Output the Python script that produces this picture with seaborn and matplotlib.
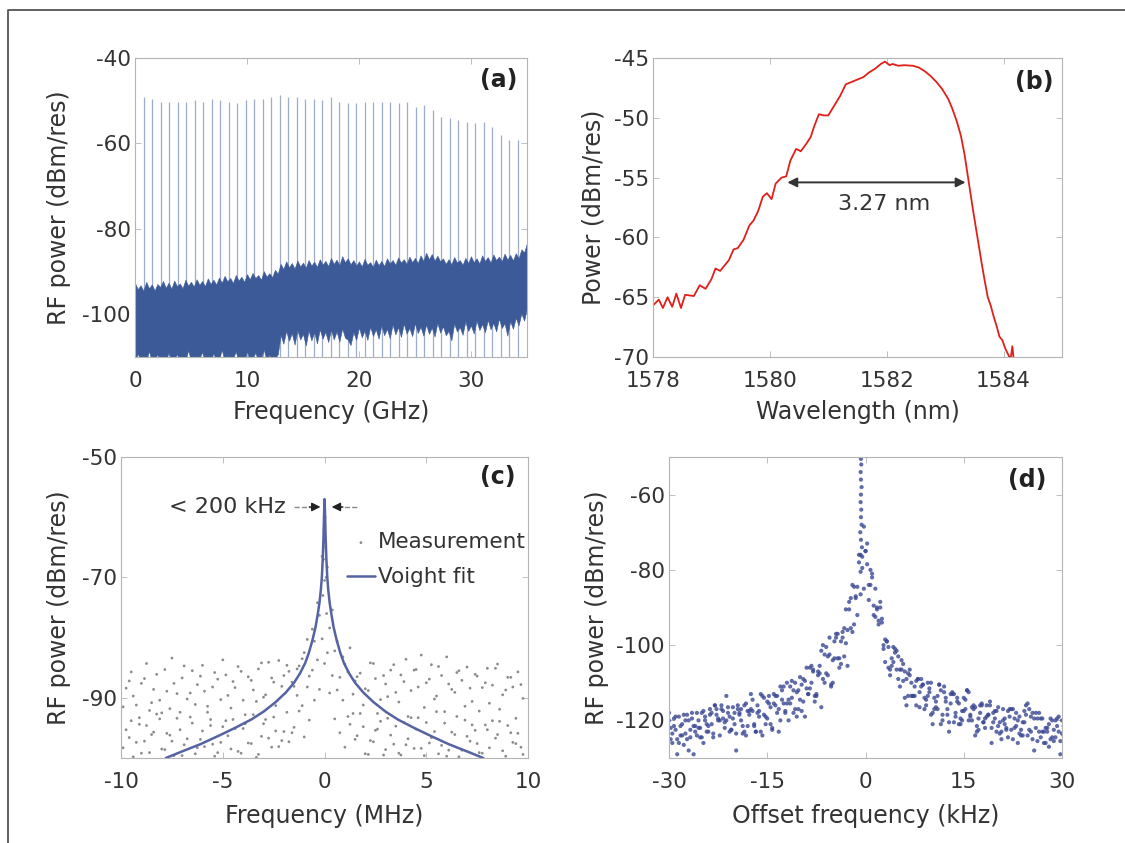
import matplotlib
matplotlib.use('Agg')
import matplotlib.pyplot as plt
import numpy as np
import pandas as pd
import seaborn as sns
from matplotlib.lines import Line2D

sns.set_theme(style='white')
plt.rcParams.update({
    'font.family': ['DejaVu Sans'],
    'axes.unicode_minus': False,
    'text.color': '#333333',
})

# ── (a) RF comb spectrum ──
comb_freq = [0.76, 1.52, 2.28, 3.04, 3.80, 4.56, 5.32, 6.08, 6.84, 7.60,
             8.36, 9.12, 9.88, 10.64, 11.40, 12.16, 12.92, 13.68, 14.44, 15.20,
             15.96, 16.72, 17.48, 18.24, 19.00, 19.76, 20.52, 21.28, 22.04, 22.80,
             23.56, 24.32, 25.08, 25.84, 26.60, 27.36, 28.12, 28.88, 29.64, 30.40,
             31.16, 31.92, 32.68, 33.44, 34.20]
comb_peak = [-49.1, -49.5, -50.2, -50.2, -50.2, -50.2, -49.8, -50.2, -49.5, -49.8,
             -50.2, -50.6, -49.8, -49.5, -49.5, -49.1, -48.7, -49.1, -49.1, -49.5,
             -49.5, -49.8, -49.1, -50.2, -50.6, -50.6, -50.2, -50.2, -50.2, -50.2,
             -50.6, -50.2, -51.4, -51.0, -52.2, -53.7, -54.1, -54.5, -54.9, -55.3,
             -54.9, -56.1, -58.0, -59.2, -59.2]
noise_freq = [0.0, 0.25, 0.5, 0.75, 1.0, 1.25, 1.5, 1.75, 2.0, 2.25,
              2.5, 2.75, 3.0, 3.25, 3.5, 3.75, 4.0, 4.25, 4.5, 4.75,
              5.0, 5.25, 5.5, 5.75, 6.0, 6.25, 6.5, 6.75, 7.0, 7.25,
              7.5, 7.75, 8.0, 8.25, 8.5, 8.75, 9.0, 9.25, 9.5, 9.75,
              10.0, 10.25, 10.5, 10.75, 11.0, 11.25, 11.5, 11.75, 12.0, 12.25,
              12.5, 12.75, 13.0, 13.25, 13.5, 13.75, 14.0, 14.25, 14.5, 14.75,
              15.0, 15.25, 15.5, 15.75, 16.0, 16.25, 16.5, 16.75, 17.0, 17.25,
              17.5, 17.75, 18.0, 18.25, 18.5, 18.75, 19.0, 19.25, 19.5, 19.75,
              20.0, 20.25, 20.5, 20.75, 21.0, 21.25, 21.5, 21.75, 22.0, 22.25,
              22.5, 22.75, 23.0, 23.25, 23.5, 23.75, 24.0, 24.25, 24.5, 24.75,
              25.0, 25.25, 25.5, 25.75, 26.0, 26.25, 26.5, 26.75, 27.0, 27.25,
              27.5, 27.75, 28.0, 28.25, 28.5, 28.75, 29.0, 29.25, 29.5, 29.75,
              30.0, 30.25, 30.5, 30.75, 31.0, 31.25, 31.5, 31.75, 32.0, 32.25,
              32.5, 32.75, 33.0, 33.25, 33.5, 33.75, 34.0, 34.25, 34.5, 34.75,
              35.0]
noise_top = [-92.7, -94.1, -93.2, -94.5, -92.4, -93.9, -93.0, -94.4, -92.9, -93.6,
             -92.2, -93.8, -92.6, -94.0, -92.1, -93.4, -92.8, -93.9, -91.9, -93.3,
             -92.4, -93.5, -91.8, -93.1, -92.2, -93.4, -91.6, -92.9, -91.9, -93.0,
             -91.4, -92.6, -91.0, -92.3, -91.5, -92.7, -90.8, -92.1, -91.2, -92.4,
             -90.6, -91.8, -90.3, -91.5, -90.8, -91.9, -89.9, -91.2, -90.4, -91.3,
             -89.6, -90.5, -88.2, -89.4, -87.6, -89.0, -88.0, -89.3, -87.4, -88.8,
             -87.9, -89.1, -87.3, -88.6, -87.7, -88.9, -87.1, -88.4, -87.5, -88.7,
             -86.8, -88.2, -87.2, -88.5, -86.4, -87.8, -86.9, -88.3, -87.3, -88.6,
             -87.6, -88.8, -87.0, -88.4, -87.8, -88.9, -87.2, -88.5, -87.5, -88.7,
             -86.9, -88.1, -87.3, -88.4, -86.7, -87.9, -87.1, -88.2, -86.5, -87.8,
             -86.8, -88.0, -86.2, -87.5, -85.6, -87.1, -85.9, -87.4, -86.3, -87.6,
             -86.9, -88.2, -87.1, -88.3, -86.6, -87.9, -87.3, -88.4, -86.8, -88.0,
             -86.4, -87.8, -86.9, -88.1, -86.2, -87.5, -86.6, -87.9, -86.0, -87.3,
             -86.5, -87.6, -85.8, -87.2, -86.1, -87.4, -85.7, -86.9, -84.8, -85.5,
             -83.3]
noise_bot = [-111, -109.2, -111, -110.3, -111, -108.6, -111, -110.5, -109.4, -111,
             -110.2, -111, -108.9, -111, -110.6, -109.3, -111, -110.1, -111, -108.4,
             -111, -109.7, -111, -110.4, -108.8, -111, -110.2, -111, -109.1, -111,
             -110.5, -108.3, -111, -109.6, -111, -110.3, -108.7, -111, -109.9, -111,
             -108.6, -111, -110.1, -109.0, -111, -110.4, -108.2, -111, -109.5, -111,
             -110.3, -109.4, -104.8, -106.9, -103.9, -106.2, -104.4, -107.1, -103.7, -105.9,
             -104.6, -107.3, -103.8, -106.1, -104.2, -106.8, -103.5, -105.7, -104.1, -106.5,
             -103.6, -105.9, -104.0, -106.4, -103.3, -105.5, -105.9, -107.2, -104.2, -106.0,
             -103.1, -105.4, -103.8, -106.0, -102.9, -105.1, -103.5, -105.7, -102.6, -104.9,
             -103.4, -105.6, -102.4, -104.7, -103.0, -105.3, -102.2, -104.5, -103.2, -105.1,
             -102.1, -104.4, -102.9, -105.0, -102.4, -104.6, -103.1, -105.2, -102.0, -104.3,
             -102.8, -104.9, -103.9, -106.1, -102.2, -104.0, -103.0, -104.8, -101.7, -103.9,
             -102.6, -104.5, -101.5, -103.7, -102.3, -104.2, -101.3, -103.5, -102.0, -104.0,
             -101.0, -103.2, -102.1, -105.0, -101.6, -103.4, -100.8, -102.6, -99.8, -101.5,
             -98.5]

# ── (b) optical spectrum ──
wl = [1578.0, 1578.1, 1578.17, 1578.25, 1578.33, 1578.4, 1578.48, 1578.55, 1578.7, 1578.8,
      1578.9, 1579.0, 1579.07, 1579.15, 1579.3, 1579.38, 1579.45, 1579.55, 1579.65, 1579.72,
      1579.8, 1579.88, 1579.95, 1580.03, 1580.1, 1580.2, 1580.28, 1580.35, 1580.45, 1580.53,
      1580.62, 1580.7, 1580.76, 1580.84, 1580.92, 1581.0, 1581.1, 1581.2, 1581.3, 1581.4,
      1581.5, 1581.6, 1581.7, 1581.8, 1581.9, 1581.97, 1582.05, 1582.1, 1582.2, 1582.3,
      1582.45, 1582.55, 1582.65, 1582.75, 1582.85, 1582.95, 1583.05, 1583.12, 1583.2, 1583.27,
      1583.33, 1583.38, 1583.43, 1583.48, 1583.53, 1583.58, 1583.63, 1583.68, 1583.73, 1583.78,
      1583.83, 1583.88, 1583.93, 1583.98, 1584.03, 1584.08, 1584.12, 1584.15, 1584.18]
opt_power = [-65.7, -65.2, -65.9, -65.0, -65.8, -64.7, -65.9, -64.8, -64.9, -64.0,
             -64.3, -63.5, -62.6, -62.8, -61.9, -61.0, -60.9, -60.2, -59.0, -58.6,
             -57.8, -56.6, -56.3, -56.8, -55.5, -55.0, -54.9, -53.6, -52.6, -52.8,
             -52.2, -51.6, -50.7, -49.7, -49.8, -49.8, -49.0, -48.2, -47.2, -47.0,
             -46.8, -46.6, -46.2, -45.9, -45.5, -45.3, -45.6, -45.5, -45.65, -45.6,
             -45.65, -45.8, -46.1, -46.5, -47.0, -47.6, -48.4, -49.2, -50.3, -51.5,
             -53.0, -54.6, -56.2, -57.8, -59.3, -60.8, -62.3, -63.7, -65.0, -65.7,
             -66.6, -67.4, -68.3, -68.6, -69.3, -69.8, -70.2, -69.1, -70.5]

# ── (c) beat note, measurement + Voigt fit ──
meas_f = [-9.75, -9.5, -9.25, -9.0, -8.75, -8.5, -8.25, -8.0, -7.75, -7.5,
          -7.25, -7.0, -6.75, -6.5, -6.25, -6.0, -5.75, -5.5, -5.25, -5.0,
          -4.75, -4.5, -4.25, -4.0, -3.75, -3.5, -3.25, -3.0, -2.75, -2.5,
          -2.25, -2.0, -1.75, -1.5, -1.25, -1.0, -0.75, -0.5, -0.25, 0.0,
          0.25, 0.5, 0.75, 1.0, 1.25, 1.5, 1.75, 2.0, 2.25, 2.5,
          2.75, 3.0, 3.25, 3.5, 3.75, 4.0, 4.25, 4.5, 4.75, 5.0,
          5.25, 5.5, 5.75, 6.0, 6.25, 6.5, 6.75, 7.0, 7.25, 7.5,
          7.75, 8.0, 8.25, 8.5, 8.75, 9.0, 9.25, 9.5, 9.75]
meas_hi = [-88.4, -85.7, -91.2, -87.6, -84.3, -90.8, -86.1, -92.5, -88.9, -83.4,
           -89.3, -86.7, -90.2, -85.5, -87.8, -84.6, -91.4, -88.2, -86.9, -83.7,
           -89.6, -87.3, -84.8, -90.4, -86.5, -88.7, -85.2, -89.9, -84.1, -87.4,
           -83.8, -86.3, -85.6, -88.1, -84.7, -82.5, -86.4, -80.6, -76.3, -70.5,
           -78.4, -82.2, -86.6, -84.4, -81.7, -87.2, -85.9, -88.5, -84.2, -86.8,
           -90.3, -87.7, -85.4, -89.1, -86.2, -83.6, -88.8, -85.3, -82.9, -87.5,
           -84.5, -89.7, -86.3, -83.2, -88.6, -85.8, -87.1, -84.9, -90.6, -86.4,
           -88.3, -85.1, -87.9, -84.4, -89.5, -86.6, -88.2, -85.7, -90.1]
meas_lo = [-95.3, -93.8, -97.4, -99.2, -94.6, -96.1, -92.7, -98.5, -95.9, -97.2,
           -93.4, -99.6, -96.8, -94.2, -98.3, -95.5, -92.4, -97.7, -99.1, -94.8,
           -96.3, -93.6, -98.9, -95.1, -97.5, -92.8, -99.4, -94.3, -96.7, -93.2,
           -98.1, -95.6, -97.3, -94.9, -92.2, -96.5, -93.7, -90.4, -88.6, -84.3,
           -89.2, -93.5, -95.8, -98.2, -94.4, -96.9, -92.6, -99.3, -97.1, -95.4,
           -93.9, -98.6, -96.2, -94.7, -99.5, -97.8, -93.3, -95.2, -98.4, -94.1,
           -96.6, -92.3, -97.9, -99.7, -95.7, -93.1, -98.7, -96.4, -94.5, -97.6,
           -99.2, -95.3, -93.8, -96.1, -98.8, -94.6, -97.4, -95.9, -99.4]
meas_f2 = [-9.9, -9.6, -9.4, -9.1, -8.85, -8.6, -8.4, -8.1, -7.85, -7.6,
           -7.4, -7.1, -6.9, -6.6, -6.35, -6.1, -5.9, -5.6, -5.4, -5.1,
           -4.85, -4.6, -4.4, -4.1, -3.9, -3.6, -3.35, -3.1, -2.9, -2.6,
           -2.4, -2.1, -1.85, -1.6, -1.35, -1.1, -0.85, -0.6, -0.35, -0.12,
           0.14, 0.38, 0.62, 0.9, 1.15, 1.4, 1.6, 1.9, 2.15, 2.4,
           2.6, 2.9, 3.1, 3.4, 3.65, 3.9, 4.1, 4.4, 4.6, 4.9,
           5.15, 5.4, 5.6, 5.9, 6.1, 6.4, 6.6, 6.9, 7.15, 7.4,
           7.6, 7.9, 8.1, 8.4, 8.6, 8.9, 9.15, 9.4, 9.65]
meas_m1 = [-91.5, -87.2, -89.7, -93.3, -86.8, -92.1, -88.6, -90.4, -85.3, -91.8,
           -87.6, -92.4, -84.7, -89.2, -91.1, -86.4, -88.9, -93.6, -85.8, -90.3,
           -86.2, -91.7, -88.3, -85.6, -92.8, -87.1, -90.6, -84.2, -89.5, -86.7,
           -91.3, -88.1, -84.6, -87.4, -85.2, -83.5, -80.3, -78.6, -74.2, -66.5,
           -68.3, -75.4, -80.6, -83.2, -85.7, -89.4, -86.5, -91.2, -88.8, -84.3,
           -92.6, -86.3, -89.8, -84.5, -90.7, -87.3, -93.1, -85.4, -88.2, -91.6,
           -86.9, -90.2, -84.8, -92.3, -87.7, -89.1, -85.5, -91.4, -88.4, -86.1,
           -92.2, -87.5, -90.9, -85.1, -91.9, -88.7, -86.6, -93.4, -87.8]
meas_m2 = [-98.3, -96.6, -99.8, -94.4, -97.2, -99.1, -95.7, -93.5, -98.6, -96.2,
           -99.6, -95.3, -97.8, -93.2, -99.3, -96.9, -98.1, -94.6, -99.7, -97.4,
           -93.8, -98.5, -95.1, -99.2, -94.3, -97.6, -99.9, -96.4, -93.6, -98.2,
           -95.5, -97.1, -92.4, -95.8, -89.6, -91.3, -88.2, -85.4, -83.7, -80.2,
           -82.5, -86.3, -88.7, -90.4, -93.1, -92.6, -96.3, -94.8, -99.4, -97.3,
           -95.2, -99.5, -93.4, -97.7, -99.2, -94.1, -96.8, -98.4, -93.3, -99.6,
           -97.5, -95.6, -99.3, -94.2, -98.7, -96.1, -99.8, -93.7, -97.2, -95.4,
           -99.1, -94.5, -98.3, -96.7, -93.9, -99.7, -95.8, -97.6, -98.2]
peak_f = [0.0, 0.03, -0.03, 0.05, -0.05, 0.08, -0.08, 0.1]
peak_p = [-57.5, -60, -62, -65, -67, -70, -73, -76]
fit_f = [-7.8, -7.0, -6.1, -5.2, -4.4, -3.6, -3.0, -2.4, -1.9, -1.5, -1.2, -0.95,
         -0.78, -0.6, -0.44, -0.33, -0.25, -0.18, -0.13, -0.09, -0.05, -0.02, 0.0,
         0.02, 0.05, 0.09, 0.13, 0.18, 0.25, 0.33, 0.44, 0.6, 0.78, 0.95, 1.2,
         1.5, 1.9, 2.4, 3.0, 3.6, 4.4, 5.2, 6.1, 7.0, 7.8]
fit_p = [-100, -98.9, -97.7, -96.3, -95.0, -93.6, -92.3, -90.7, -89.1, -87.5, -85.9, -84.2,
         -82.6, -80.5, -78.2, -76.0, -74.2, -72.0, -69.8, -67.0, -63.0, -59.0, -57.0,
         -59.0, -63.0, -67.0, -69.8, -72.0, -74.2, -76.0, -78.2, -80.5, -82.6, -84.2, -85.9,
         -87.5, -89.1, -90.7, -92.3, -93.6, -95.0, -96.3, -97.7, -98.9, -100]

# ── (d) self-heterodyne linewidth ──
off_f = [-30.0, -29.5, -29.0, -28.5, -28.0, -27.5, -27.0, -26.5, -26.0, -25.5,
         -25.0, -24.5, -24.0, -23.5, -23.0, -22.5, -22.0, -21.5, -21.0, -20.5,
         -20.0, -19.5, -19.0, -18.5, -18.0, -17.5, -17.0, -16.5, -16.0, -15.5,
         -15.0, -14.5, -14.0, -13.5, -13.0, -12.5, -12.0, -11.5, -11.0, -10.5,
         -10.0, -9.5, -9.0, -8.5, -8.0, -7.5, -7.0, -6.5, -6.0, -5.5,
         -5.0, -4.5, -4.0, -3.5, -3.0, -2.5, -2.0, -1.5, -1.0, -0.5,
         0.0, 0.5, 1.0, 1.5, 2.0, 2.5, 3.0, 3.5, 4.0, 4.5,
         5.0, 5.5, 6.0, 6.5, 7.0, 7.5, 8.0, 8.5, 9.0, 9.5,
         10.0, 10.5, 11.0, 11.5, 12.0, 12.5, 13.0, 13.5, 14.0, 14.5,
         15.0, 15.5, 16.0, 16.5, 17.0, 17.5, 18.0, 18.5, 19.0, 19.5,
         20.0, 20.5, 21.0, 21.5, 22.0, 22.5, 23.0, 23.5, 24.0, 24.5,
         25.0, 25.5, 26.0, 26.5, 27.0, 27.5, 28.0, 28.5, 29.0, 29.5,
         30.0]
off_fb = [-29.75, -29.25, -28.75, -28.25, -27.75, -27.25, -26.75, -26.25, -25.75, -25.25,
          -24.75, -24.25, -23.75, -23.25, -22.75, -22.25, -21.75, -21.25, -20.75, -20.25,
          -19.75, -19.25, -18.75, -18.25, -17.75, -17.25, -16.75, -16.25, -15.75, -15.25,
          -14.75, -14.25, -13.75, -13.25, -12.75, -12.25, -11.75, -11.25, -10.75, -10.25,
          -9.75, -9.25, -8.75, -8.25, -7.75, -7.25, -6.75, -6.25, -5.75, -5.25,
          -4.75, -4.25, -3.75, -3.25, -2.75, -2.25, -1.75, -1.25, -0.75, -0.25,
          0.25, 0.75, 1.25, 1.75, 2.25, 2.75, 3.25, 3.75, 4.25, 4.75,
          5.25, 5.75, 6.25, 6.75, 7.25, 7.75, 8.25, 8.75, 9.25, 9.75,
          10.25, 10.75, 11.25, 11.75, 12.25, 12.75, 13.25, 13.75, 14.25, 14.75,
          15.25, 15.75, 16.25, 16.75, 17.25, 17.75, 18.25, 18.75, 19.25, 19.75,
          20.25, 20.75, 21.25, 21.75, 22.25, 22.75, 23.25, 23.75, 24.25, 24.75,
          25.25, 25.75, 26.25, 26.75, 27.25, 27.75, 28.25, 28.75, 29.25, 29.75,
          30.25]
off_p1 = [-118, -123.5, -119, -126, -121, -123.5, -120, -118, -121.5, -120,
          -124.5, -120, -121.5, -118, -116, -119.5, -116, -120.5, -118, -122.5,
          -118, -116, -120, -116, -121.5, -117, -121.5, -116, -113, -118.5,
          -115, -121, -115.5, -118, -111, -111, -115.5, -111, -118, -112.5,
          -114.5, -109, -106, -111.5, -106.5, -113, -105.5, -109, -100.5, -98,
          -104, -98, -106, -96.5, -99.5, -88.5, -84, -87.5, -78, -79.5,
          -75, -84, -81, -85, -94.5, -94, -104.5, -100.5, -105.5, -102,
          -103, -106.5, -107, -113.5, -110, -113.5, -109, -109, -114, -110,
          -118.5, -114, -117, -112, -111, -117, -113, -120.5, -115, -119.5,
          -114, -112, -118.5, -116, -121.5, -118, -120.5, -116, -115, -120.5,
          -117.5, -123.5, -120, -122.5, -117, -117, -121.5, -119, -124, -118.5,
          -122.5, -118, -118, -123, -119.5, -126, -121, -124.5, -120, -119,
          -123.5]
off_p2 = [-122, -119.5, -125, -121.5, -126.5, -118.5, -124.5, -121.5, -124, -122,
          -117.5, -123, -118.5, -124.5, -117, -120, -117.5, -120, -119, -116.5,
          -123.5, -118.5, -123.5, -115.5, -118.5, -117.5, -123, -119, -113.5, -121,
          -115.5, -122.5, -113.5, -117, -114.5, -118, -114.5, -109.5, -117, -112,
          -117.5, -109.5, -113, -110, -113.5, -108, -101.5, -110, -103, -110.5,
          -99, -103.5, -99, -103, -96, -87.5, -94.5, -84.5, -86.5, -68.5,
          -78.5, -80, -89.5, -90, -88.5, -100, -99, -106.5, -100.5, -106.5,
          -106.5, -109.5, -109, -106.5, -113.5, -109.5, -116.5, -110.5, -114.5, -112.5,
          -118, -115, -110.5, -118.5, -114, -120.5, -112.5, -118, -115.5, -120,
          -117, -112.5, -120, -116.5, -122.5, -116, -119.5, -118.5, -122, -119.5,
          -116.5, -123, -119.5, -124.5, -117, -122, -120, -124, -120.5, -115.5,
          -123, -119.5, -125.5, -119.5, -123, -122, -125, -122.5, -119.5, -125.5,
          -121.5]
off_p3 = [-120, -126, -122.5, -119, -124, -120, -128, -119.5, -123, -122,
          -118, -119, -123, -121, -116, -120, -117, -122, -116.5, -122.5,
          -121, -117, -117, -123, -117.5, -113, -121, -118, -123, -114,
          -119.5, -116.5, -113, -113.5, -120, -115.5, -110, -115.5, -112, -119,
          -108.5, -115, -111.5, -106, -107, -113.5, -107.5, -100, -107.5, -102.5,
          -110, -97, -103.5, -98, -90.5, -90.5, -96.5, -87, -76, -76.5,
          -75, -88, -82, -92.5, -93.5, -93, -98.5, -106, -103.5, -101,
          -109, -104, -114, -107.5, -113.5, -111, -109, -111, -117, -113.5,
          -110, -117, -113.5, -121, -112.5, -118.5, -115.5, -113, -114, -121,
          -117.5, -112, -119, -117, -123, -116, -120.5, -119, -116, -118,
          -123, -120.5, -117, -122, -119, -125, -118, -123.5, -120.5, -116,
          -117, -125, -122, -118, -123, -122, -127, -120, -124.5, -123,
          -120]
off_p4 = [-125, -121.5, -129, -124, -118.5, -125, -122.5, -129, -118, -124.5,
          -126, -121, -117, -123.5, -118.5, -124, -119.5, -113.5, -123, -119.5,
          -128, -118, -121.5, -124, -117.5, -114.5, -123, -117.5, -124, -119,
          -113.5, -122, -116, -123, -112, -117.5, -120, -114, -110, -117,
          -110.5, -119, -113, -105.5, -115, -107, -116.5, -102.5, -108, -111,
          -103.5, -97, -105, -95.5, -105.5, -95.5, -84.5, -92, -80.5, -85,
          -73, -84, -92, -90.5, -90, -101, -99, -108, -104.5, -101.5,
          -111, -105, -116, -108, -113.5, -116, -112.5, -110.5, -116, -111.5,
          -121, -116.5, -110.5, -120, -115, -123, -113, -119, -121, -117.5,
          -114.5, -120, -116.5, -124, -119.5, -115.5, -122, -118.5, -126, -117.5,
          -121.5, -125, -121, -117.5, -122.5, -119.5, -126, -122.5, -117.5, -124,
          -119, -128, -119.5, -124.5, -126, -123, -119.5, -125.5, -121.5, -129,
          -124]
spike_f = [-0.7, -0.65, -0.75, -0.7, -0.6, -0.7, -0.75, -0.65, -0.7, -0.6, -0.8, -0.7, -0.55, -0.75]
spike_p = [-50.5, -52, -54, -56, -58, -60, -62, -64, -66, -68, -70, -72, -74, -76]

TXT = '#333333'
SPINE = '#b4b4b4'
BLUE = '#3d5a98'


def style(ax, xlabel, ylabel, ylab_x, xlab_y):
    for s in ax.spines.values():
        s.set_color(SPINE)
        s.set_linewidth(0.8)
    ax.tick_params(direction='in', length=4, width=0.6, color=SPINE,
                   top=True, right=True, bottom=True, left=True,
                   labelsize=15.5, labelcolor=TXT)
    ax.tick_params(axis='x', pad=10)
    ax.tick_params(axis='y', pad=3)
    ax.set_xlabel(xlabel, fontsize=17, color=TXT)
    ax.set_ylabel(ylabel, fontsize=17, color=TXT)
    ax.xaxis.set_label_coords(0.5, xlab_y)
    ax.yaxis.set_label_coords(ylab_x, 0.5)


fig = plt.figure(figsize=(11.25, 8.43), dpi=100)
ax_a = fig.add_axes([0.120, 0.5765, 0.3484, 0.3547])
ax_b = fig.add_axes([0.5804, 0.5765, 0.3636, 0.3547])
ax_c = fig.add_axes([0.1076, 0.1008, 0.3618, 0.3571])
ax_d = fig.add_axes([0.5947, 0.1008, 0.3493, 0.3571])

# (a)
ax_a.vlines(comb_freq, -110, comb_peak, color=BLUE, lw=0.9, alpha=0.5)
ax_a.fill_between(noise_freq, noise_bot, noise_top, color=BLUE, lw=0.4, edgecolor=BLUE)
ax_a.set_xlim(0, 35)
ax_a.set_ylim(-110, -40)
ax_a.set_xticks([0, 10, 20, 30])
ax_a.set_yticks([-40, -60, -80, -100])
style(ax_a, 'Frequency (GHz)', 'RF power (dBm/res)', -0.163, -0.145)
ax_a.text(0.975, 0.925, '(a)', transform=ax_a.transAxes, ha='right', va='center',
          fontsize=17, fontweight='bold', color='#222222')

# (b)
sns.lineplot(x=wl, y=opt_power, ax=ax_b, color='#e0201b', lw=1.3,
             sort=False, estimator=None)
ax_b.set_xlim(1578, 1585)
ax_b.set_ylim(-70, -45)
ax_b.set_xticks([1578, 1580, 1582, 1584])
ax_b.set_yticks([-45, -50, -55, -60, -65, -70])
style(ax_b, 'Wavelength (nm)', 'Power (dBm/res)', -0.117, -0.145)
ax_b.annotate('', xy=(1580.3, -55.4), xytext=(1583.35, -55.4),
              arrowprops=dict(arrowstyle='<|-|>', color='#333333', lw=1.4,
                              mutation_scale=14, shrinkA=0, shrinkB=0))
ax_b.text(1581.96, -57.2, '3.27 nm', ha='center', va='center', fontsize=16, color=TXT)
ax_b.text(0.978, 0.92, '(b)', transform=ax_b.transAxes, ha='right', va='center',
          fontsize=17, fontweight='bold', color='#222222')

# (c)
meas = pd.DataFrame({'f': meas_f + meas_f + meas_f2 + meas_f2 + peak_f,
                     'p': meas_hi + meas_lo + meas_m1 + meas_m2 + peak_p})
sns.scatterplot(data=meas, x='f', y='p', ax=ax_c, s=4, color='#8c8c8c',
                edgecolor='none', linewidth=0, label='Measurement')
sns.lineplot(x=fit_f, y=fit_p, ax=ax_c, color='#5562a3', lw=1.8,
             sort=False, estimator=None, label='Voight fit')
ax_c.set_xlim(-10, 10)
ax_c.set_ylim(-100, -50)
ax_c.set_xticks([-10, -5, 0, 5, 10])
ax_c.set_yticks([-50, -70, -90])
style(ax_c, 'Frequency (MHz)', 'RF power (dBm/res)', -0.123, -0.153)
ax_c.legend(loc='upper left', bbox_to_anchor=(0.555, 0.75), frameon=False,
            fontsize=15.5, handlelength=1.3, handletextpad=0.15, labelspacing=0.7,
            borderpad=0, borderaxespad=0, markerscale=1)
ax_c.plot([-1.5, -0.5], [-58.3, -58.3], ls='--', color='#888888', lw=1)
ax_c.plot([0.6, 1.6], [-58.3, -58.3], ls='--', color='#888888', lw=1)
ax_c.annotate('', xy=(-0.2, -58.3), xytext=(-0.75, -58.3),
              arrowprops=dict(arrowstyle='-|>', color='#222222', lw=1,
                              mutation_scale=13, shrinkA=0, shrinkB=0))
ax_c.annotate('', xy=(0.35, -58.3), xytext=(0.9, -58.3),
              arrowprops=dict(arrowstyle='-|>', color='#222222', lw=1,
                              mutation_scale=13, shrinkA=0, shrinkB=0))
ax_c.text(-1.9, -58.3, '< 200 kHz', ha='right', va='center', fontsize=16, color=TXT)
ax_c.text(0.97, 0.934, '(c)', transform=ax_c.transAxes, ha='right', va='center',
          fontsize=17, fontweight='bold', color='#222222')

# (d)
het = pd.DataFrame({'f': off_f + off_fb + off_f + off_fb + spike_f,
                    'p': off_p1 + off_p2 + off_p3 + off_p4 + spike_p})
sns.scatterplot(data=het, x='f', y='p', ax=ax_d, s=9, color='#3a4893',
                edgecolor='none', linewidth=0, alpha=0.8)
ax_d.set_xlim(-30, 30)
ax_d.set_ylim(-130, -50)
ax_d.set_xticks([-30, -15, 0, 15, 30])
ax_d.set_yticks([-60, -80, -100, -120])
style(ax_d, 'Offset frequency (kHz)', 'RF power (dBm/res)', -0.153, -0.153)
ax_d.text(0.96, 0.924, '(d)', transform=ax_d.transAxes, ha='right', va='center',
          fontsize=17, fontweight='bold', color='#222222')

# outer frame (top + left edges)
fig.add_artist(Line2D([8 / 1125, 8 / 1125, 1.0], [0.0, 1 - 9.5 / 843, 1 - 9.5 / 843],
                      transform=fig.transFigure, color='#555555', lw=1.3))

fig.savefig('out.png', dpi=100, facecolor='white')
plt.close(fig)
